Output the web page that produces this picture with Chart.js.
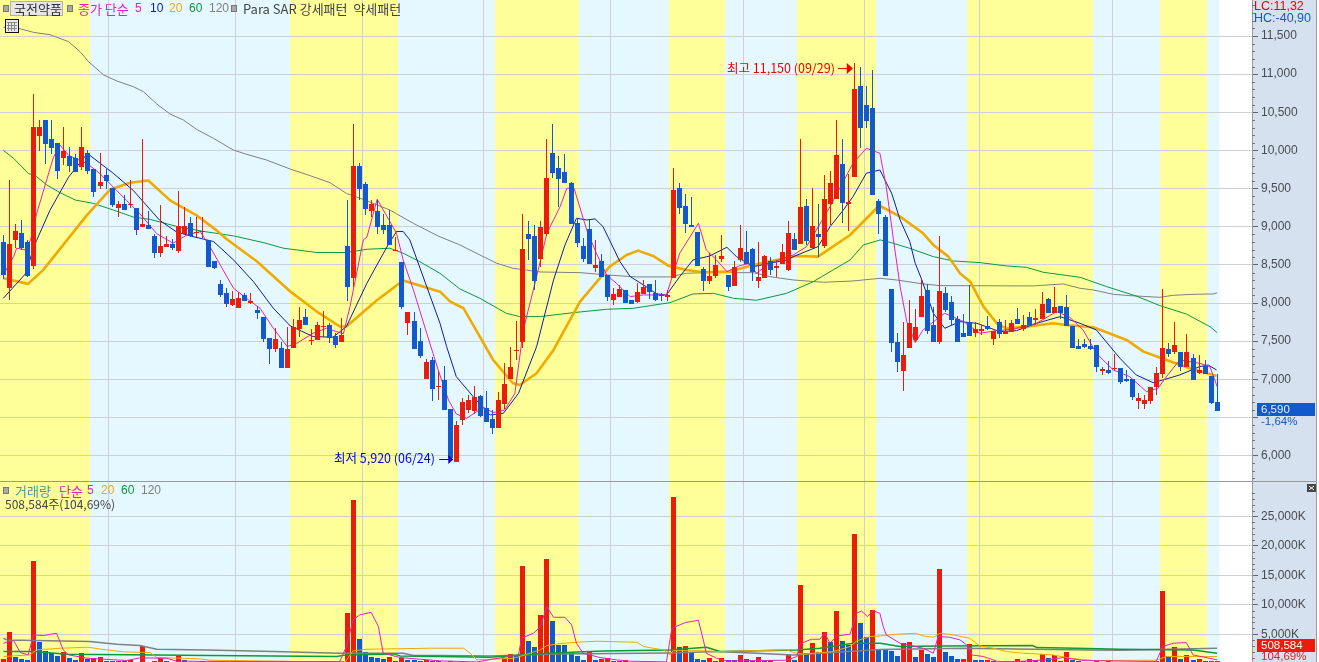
<!DOCTYPE html>
<html><head><meta charset="utf-8">
<style>html,body{margin:0;padding:0;background:#fff;overflow:hidden}canvas{display:block}</style>
<script src="https://cdn.jsdelivr.net/npm/chart.js@4"></script>
</head><body><canvas id="c" width="1319" height="662"></canvas>
<script>
const opens=[8795,8191,8828,8913,8795,8480,10184,10394,10145,10092,
9896,9922,9896,9778,9961,9752,9529,9673,9507,9240,
9293,9290,9240,8996,9017,8873,8657,8736,8775,8679,
8900,9044,8915,8925,8828,8552,8251,8133,7976,7936,
8107,8002,7910,7818,7543,7399,7412,7150,7412,7660,
7818,7500,7517,7695,7713,7570,7490,8749,8330,9791,
9555,9200,9200,9017,9017,8690,8539,7740,7766,7504,
7005,7254,6900,6991,6614,5920,6465,6598,6585,6781,
6620,6480,6362,6677,7004,7375,7489,8905,8879,8577,
8905,9967,9770,9718,9574,9049,8748,8971,8460,8551,
8368,8040,8079,8171,8040,8014,8119,8250,8132,8105,
8079,8328,9508,9272,9023,8931,8446,8289,8355,8578,
8368,8224,8564,8669,8709,8289,8328,8551,8460,8512,
8433,8840,8774,9272,8722,8905,8748,9293,9358,9817,
9300,9647,10840,10591,10551,9332,9128,8184,7489,7109,
7411,7516,7817,8171,7712,7489,8132,8014,7791,7607,
7752,7607,7634,7699,7529,7752,7598,7625,7791,7660,
7817,7778,7791,8053,7870,7961,7948,7699,7437,7463,
7437,7450,7115,7122,7140,7149,7004,7004,6716,6677,
6716,6899,7070,7398,7358,7358,7162,7280,7083,7175,
7044,6703];
const closes=[8362,8777,8939,8725,8349,10302,10302,10079,10027,9725,
9988,9791,9712,10040,9725,9450,9581,9594,9280,9293,
9214,9300,8952,9040,8965,8657,8749,8775,8723,9004,
9004,8873,8930,8940,8478,8461,8107,7989,8054,8067,
8028,8032,7871,7530,7399,7530,7150,7399,7683,7779,
7713,7510,7713,7705,7543,7451,7582,8212,9791,9489,
9227,9293,8991,8952,8762,8700,7949,7884,7399,7307,
7228,6874,6910,6598,5962,6400,6700,6729,6764,6519,
6441,6362,6729,6939,7162,7390,8709,8840,8289,8997,
9639,9705,9626,9574,9036,8787,8577,8512,8499,8342,
8079,8119,8184,8000,7988,8145,8210,8145,8040,8090,
8105,9482,9246,9036,8997,8486,8289,8355,8499,8617,
8210,8473,8722,8512,8407,8342,8617,8433,8486,8669,
8918,8696,9259,8813,9010,8866,9364,9568,9935,9306,
9320,10800,10289,10381,9411,9162,8355,7476,7227,7319,
7739,7686,8092,7634,7489,8158,7909,7778,7489,7555,
7568,7660,7660,7660,7634,7594,7634,7734,7725,7712,
7712,7800,7988,7865,7948,7870,7699,7411,7398,7424,
7398,7162,7130,7083,7150,6965,6978,6768,6755,6729,
6899,7083,7411,7332,7450,7162,7358,6991,7122,7070,
6690,6590];
const highs=[8886,9616,9040,9083,8830,10744,10394,10394,10394,10092,
10302,10040,9957,10302,10000,9752,9970,9760,9507,9332,
9410,9607,9240,10145,9200,8908,9280,8880,8840,9463,
9258,9127,9127,9127,8828,8552,8303,8198,8159,8146,
8133,8133,7962,7818,7543,7670,7495,7683,7788,7950,
7923,7660,7753,7892,7735,7605,7800,9345,10342,9830,
9581,9345,9345,9170,9223,8870,8539,7884,7884,7670,
7263,7290,7110,7175,6614,6456,6749,6795,6913,6800,
6847,6598,6838,7210,7420,7765,9168,9076,9023,9076,
10151,10347,9928,9954,9590,9110,8849,9089,8826,8643,
8368,8193,8237,8171,8040,8258,8302,8250,8302,8130,
8171,9770,9570,9430,9390,8931,8477,8652,8630,8892,
8368,8551,9023,8945,8722,8800,8630,8608,8564,8774,
9076,8918,10151,9364,9508,9299,9679,9725,10394,10145,
9686,11150,11093,10840,11050,9367,9154,8184,7603,7752,
8040,7922,8328,8250,7948,8879,8210,8092,7830,7856,
8237,7752,7712,7830,7634,7791,7778,7778,7935,7843,
7883,7922,8145,8066,8210,7961,8105,7699,7529,7524,
7524,7450,7162,7240,7332,7149,7120,7004,6816,6795,
6899,7162,8184,7476,7752,7358,7594,7332,7319,7253,
7044,7070];
const lows=[8318,8034,8718,8697,8340,8443,9992,9826,9957,9620,
9804,9712,9712,9739,9686,9385,9489,9489,9260,9122,
9214,9240,8886,8996,8965,8596,8609,8736,8697,8657,
8893,8860,8870,8856,8478,8445,8085,7949,7962,7936,
8028,7989,7792,7495,7202,7360,7150,7150,7412,7560,
7713,7456,7517,7560,7480,7412,7490,8028,8216,9345,
9149,9122,8900,8908,8762,8680,7919,7582,7399,7276,
7005,6717,6725,6598,5962,5920,6400,6554,6545,6510,
6441,6283,6362,6615,7004,7253,7411,8564,8171,8477,
8879,9639,9264,9574,9036,8735,8538,8512,8407,8342,
8027,7975,8079,8000,7988,8000,8119,8053,8027,8027,
8027,8328,9167,8914,8997,8486,8158,8250,8328,8538,
8158,8224,8538,8512,8289,8197,8328,8368,8342,8512,
8420,8696,8774,8761,8722,8604,8722,9017,9358,9044,
8939,9647,10027,10289,9411,8900,8355,7358,7096,6847,
7411,7489,7817,7594,7489,7463,7883,7699,7489,7555,
7568,7555,7581,7647,7450,7542,7598,7625,7725,7634,
7712,7712,7791,7865,7870,7795,7699,7411,7398,7410,
7385,7096,7057,7070,7122,6939,6965,6729,6611,6611,
6677,6795,7017,7293,7332,7109,7162,6991,7070,7070,
6680,6590];
const volumes=[820,5400,1210,820,650,17430,3700,2175,1780,1330,
2060,1050,650,1840,820,930,1160,480,440,540,
480,650,370,3020,310,480,1050,420,310,1380,
650,370,310,540,300,330,300,320,300,350,
310,300,330,300,310,300,320,300,310,300,
320,300,310,300,320,300,520,8620,27770,4210,
2000,1160,990,820,1160,420,990,650,650,480,
650,420,420,250,540,300,280,270,260,250,
240,260,300,1050,1670,1440,16580,3870,2850,8280,
17770,7260,3190,3190,1780,1330,650,2000,650,820,
990,480,540,590,300,280,260,250,240,230,
300,28280,2850,3020,1900,820,650,990,480,990,
590,590,1500,760,480,1160,480,590,370,310,
1500,650,13360,1840,3530,2000,5400,3700,8950,3870,
3190,22000,6920,4550,9120,2510,2340,2175,1330,3530,
3700,1160,2340,1670,1160,16070,2000,1330,820,830,
3360,650,640,680,480,310,300,320,820,480,
820,650,1670,990,1500,480,2000,650,400,350,
330,420,300,480,320,300,310,300,320,300,
340,480,12350,1330,2850,820,1500,650,820,420,
486,509];

const ma5=[[0.3,8413],[1.7,8609],[2.2,8719],[3.6,8697],[4.5,8828],[5.5,9170],[8.3,9914],[9.4,10067],[10.8,9935],[13.9,9826],[16,9695],[18.2,9520],[20.4,9345],[22.6,9170],[25.4,8908],[28.1,8784],[30.4,8893],[32.6,8937],[34.2,8740],[35.9,8500],[38.1,8194],[40.8,8028],[42.5,7932],[44.7,7670],[47,7429],[48.6,7473],[51.3,7604],[53.5,7670],[56.3,7595],[57.4,7954],[59.6,8828],[60.2,8865],[61.9,9360],[65.1,8915],[66.2,8566],[67.9,8172],[70.1,7604],[72,7123],[73.7,6729],[75,6546],[76.7,6489],[79.5,6633],[81.1,6563],[83,6598],[84.7,6816],[86.1,7647],[88.3,8346],[90,8914],[92.2,9264],[93.3,9504],[94.5,9504],[96.6,8958],[98.2,8652],[99.9,8368],[101.5,8259],[103.8,8084],[106,8106],[109.8,8105],[112,8652],[115.1,9045],[116.4,8696],[118.1,8564],[119.8,8412],[122,8490],[123.6,8521],[124.7,8390],[126.9,8521],[129.1,8586],[130.8,8630],[133,8739],[136.9,9264],[138.5,9504],[140.7,9832],[142.9,10028],[145.15,9963],[146.2,9526],[147.4,8827],[148.5,8215],[149.6,7756],[151,7481],[152.3,7647],[155.1,7822],[155.9,7865],[159,7756],[161.7,7603],[164.5,7638],[167.2,7656],[171.1,7734],[174.4,7887],[176.6,7813],[178.8,7647],[181,7341],[183.8,7122],[186.5,7035],[189.3,6838],[191.2,6882],[192.6,7035],[194.8,7253],[198.1,7210],[199.8,7166],[201,6904]];
const ma10=[[0,8063],[3.6,8378],[5.2,8762],[5.5,8821],[7.7,9214],[10.8,9651],[13.9,9961],[18.2,9700],[21.5,9476],[25.9,9083],[28.7,8930],[30.9,8880],[34.8,8806],[38.1,8566],[41.4,8281],[44.7,7932],[47.5,7700],[51.3,7560],[54.6,7552],[56.8,7692],[60.2,8260],[63.7,8762],[65.1,8937],[66.2,8937],[67.3,8828],[72.3,7734],[73.4,7428],[75,7035],[77.8,6773],[80.6,6532],[82.8,6554],[85.3,6816],[88.3,7428],[91.1,8302],[93,8761],[94.9,9111],[96.6,9089],[98,9102],[99.3,9001],[102.1,8543],[103.8,8346],[106,8237],[108.2,8119],[109.8,8105],[112,8346],[114.2,8564],[117,8617],[119.8,8731],[121.4,8608],[124.2,8477],[126.9,8521],[129.7,8564],[130.8,8608],[134.9,8739],[136.9,9001],[139.1,9220],[140.7,9395],[142.9,9701],[145.15,9744],[147.1,9438],[148.5,9089],[150.1,8805],[151,8521],[152.1,8302],[154,7865],[155.9,7669],[158.4,7756],[161.2,7734],[165,7625],[167.8,7638],[171.1,7734],[175,7822],[178.3,7734],[181,7647],[184.9,7275],[187.6,7057],[190.4,6956],[192,6991],[194.8,7057],[198.1,7166],[199.5,7188],[200.9,7122]];
const ma20=[[0,8325],[4.1,8251],[6.6,8434],[10.5,8821],[13.8,9149],[17.7,9489],[21,9576],[24,9607],[27.6,9345],[32,9149],[35.3,8952],[37,8835],[42,8544],[47.5,8150],[51.9,7888],[55.7,7692],[56.8,7692],[61.8,8032],[66.2,8295],[72.3,8149],[74,8018],[76.2,7931],[78.9,7559],[81.1,7253],[84.4,6948],[85.5,6926],[88.3,7079],[91.1,7385],[95.5,8018],[100.4,8477],[103.2,8630],[105.1,8687],[107.6,8617],[110.1,8490],[113.1,8433],[115.9,8403],[120.3,8412],[124.2,8499],[128,8564],[131.4,8617],[134.9,8608],[140.2,8892],[144.6,9242],[145.2,9272],[148.5,9133],[152.3,8914],[154,8761],[156.5,8608],[158.4,8390],[160.1,8280],[162.3,7953],[164.5,7734],[166.1,7664],[169.4,7690],[173.8,7734],[176,7712],[180.5,7682],[186,7516],[188.8,7363],[192.6,7253],[196.5,7144],[200.9,7044]];
const ma60=[[0,10001],[1.7,9896],[4.1,9700],[5.5,9656],[7.2,9547],[9.4,9446],[11.9,9350],[14.9,9306],[18.2,9219],[21.5,9127],[24.3,9096],[28.7,9004],[33.1,8939],[38.1,8880],[43,8793],[46.4,8718],[51.9,8662],[56.8,8662],[60.2,8705],[64,8718],[66.2,8653],[68.9,8544],[72.3,8390],[75.6,8184],[78.9,8062],[83.3,7865],[85.5,7822],[88.9,7822],[94.4,7874],[99.9,7918],[104.3,7931],[110.4,8005],[114.2,8119],[117.6,8127],[120.9,8062],[124.7,8036],[129.7,8127],[134.1,8280],[140.2,8564],[142.4,8761],[145.2,8827],[146.8,8796],[150.1,8717],[154,8608],[157.3,8551],[161.7,8530],[166.1,8486],[169.4,8468],[172.2,8403],[178.3,8337],[182.7,8215],[187.6,8092],[191.5,7966],[195.9,7856],[199.8,7690],[201,7612]];
const ma120=[[0,11614],[2.5,11600],[5,11548],[7.7,11517],[10.8,11426],[12.7,11295],[14.1,11164],[16.6,10989],[18.8,10910],[21.5,10836],[23.2,10770],[25.4,10609],[27.6,10477],[29.8,10399],[32,10276],[34.8,10158],[38.1,10005],[40.3,9949],[43.6,9874],[47.5,9756],[50.8,9669],[54.1,9577],[56.8,9437],[59.6,9358],[64,9219],[67.9,9044],[72,8878],[75.6,8761],[78.9,8630],[81.7,8521],[84.4,8455],[88.9,8407],[95.5,8398],[99.9,8368],[104.9,8342],[110.4,8342],[113.1,8390],[116.4,8398],[124.2,8398],[126.9,8346],[130.8,8302],[135.8,8272],[140.7,8289],[145.2,8324],[147.9,8302],[152.3,8250],[155.1,8228],[170.5,8224],[175.5,8250],[178.3,8193],[180.5,8171],[183.8,8114],[186.5,8097],[191.5,8075],[193.7,8101],[197,8114],[200.3,8119],[201,8132]];

const volMa5=[[0,3475],[1.7,3927],[2.8,1893],[4.1,1497],[5,4887],[6.6,4774],[8.8,5170],[9.9,2345],[10.8,1497],[13.8,932],[16.6,763],[20.4,537],[22.6,989],[27,932],[28.7,424],[37.5,367],[55.7,367],[56.8,2910],[57.9,7430],[59,8277],[60.9,8729],[62.1,6300],[62.9,1780],[65.7,1045],[72.3,480],[78.4,300],[85.3,1497],[85.8,4322],[87.8,5170],[88.9,6300],[90,9690],[91.1,7882],[93,7882],[94.1,6583],[94.9,3475],[96,1780],[98.8,1045],[101.5,650],[103.8,424],[109.8,311],[110.7,6017],[112.9,6978],[115.1,7373],[115.9,4040],[116.4,1780],[118.1,932],[119.8,480],[129.7,593],[131.4,1215],[131.9,3362],[133.8,4153],[135.2,4153],[136,5170],[136.9,3475],[138,4718],[140.2,5000],[141.3,8560],[142.1,8955],[143.1,7995],[144,9012],[145.15,8560],[145.7,6300],[146.2,4887],[148.5,3475],[152.3,2627],[154,1780],[154.8,4605],[156.7,4492],[158.4,4040],[159.5,3192],[160.3,1497],[162.3,1215],[164.7,367],[167.8,367],[172.7,650],[175.5,1045],[178.8,537],[190.9,367],[192,2910],[193.7,3475],[195.9,3588],[197,1497],[201,650]];
const volMa20=[[0,1215],[4.4,1497],[5.5,2345],[9.4,2627],[14,2797],[17.1,2345],[19.9,2006],[24.3,1893],[25.4,1045],[32.6,819],[34.2,593],[47,424],[48.6,311],[56.6,311],[57.9,2175],[60.2,2458],[70.7,2627],[76.2,2627],[77.3,1780],[78.4,650],[84.4,932],[85.5,1215],[88.9,2345],[90,3079],[92.2,3418],[94.9,3644],[98.2,3814],[104.9,3644],[106,2910],[107.6,2627],[109.3,2345],[110.4,1497],[110.9,2232],[116.4,2175],[118.1,2062],[129.7,2345],[130.8,1893],[132.5,1610],[137.4,2062],[140.2,2910],[141.3,3870],[143.5,4605],[145.2,4718],[147.9,5000],[151.2,5170],[152.3,4718],[154,4492],[155.1,5170],[157.3,4887],[160,4322],[161.7,3023],[163.9,2627],[166.1,2062],[168.9,1780],[173.8,1497],[176.6,932],[180.5,537],[190.9,593],[192.6,1215],[201,1215]];
const volMa60=[[0,2062],[5,2062],[10.5,1610],[25.4,1497],[34.2,1384],[55.2,1215],[56.8,1497],[64.6,1667],[65.7,1328],[72.3,1215],[80.6,1102],[90,1780],[99.3,2175],[110.4,2345],[116.4,2797],[118.7,2062],[131.4,2345],[135.2,2627],[140.7,3475],[145.2,3475],[148.5,2910],[155.1,3023],[170.5,3079],[171.1,2740],[177.7,2627],[184.9,2458],[197,2345],[201,1780]];
const volMa120=[[0,4322],[0.6,4040],[14.3,3757],[18.8,3305],[22.6,3079],[25.4,2458],[33.7,2345],[44.7,2062],[55.7,1780],[66.2,1780],[67.9,1384],[72.3,1384],[80.6,1328],[91.6,1667],[110.4,1836],[118.1,2062],[124.7,1780],[130.8,1497],[145.2,2400],[159,2627],[179.4,2345],[184.9,2288],[201,2627]];

const yellowBands=[[-0.6,14.29],[47.45,65.28],[81.39,95.4],[110.3,119.47],[131.44,144.5],[159.6,180.4],[191.5,199.4]];
const blueBand=[-0.6,201.4];
const monthLines=[17.37,38.4,59.43,79.47,100.5,122.53,142.56,161.6,183.63];
const priceTicks=[6000,6500,7000,7500,8000,8500,9000,9500,10000,10500,11000,11500];
const hiddenPriceLabels=[6500];
const volumeTicks=[5000,10000,15000,20000,25000];

const RED='#EB1C0C',BLUE='#1259CC',MAG='#E61FBE',NAVY='#0A1FA5',ORG='#F0AA00',GRN='#0A9A3C',GRY='#808080';
const GRID='#CDD0D6',AXIS='#999',TXT='#454C55';
const idx=a=>a.map((_,i)=>i);
const pts=a=>a.map(p=>({x:p[0],y:p[1]}));
const candleColor=idx(opens).map(i=>closes[i]>=opens[i]?RED:BLUE);
const volColor=idx(volumes).map(i=>i===0||volumes[i]>volumes[i-1]?RED:BLUE);
const line=(d,col,w,axis,order)=>({type:'line',data:pts(d),borderColor:col,borderWidth:w,pointRadius:0,tension:0,yAxisID:axis,order,parsing:true,fill:false,borderJoinStyle:'round'});
const bar=(d,col,w,axis,order)=>({type:'bar',data:d,backgroundColor:col,borderWidth:0,barThickness:w,grouped:false,barPercentage:0.9,categoryPercentage:1,inflateAmount:0,yAxisID:axis,order,snap:true});

const datasets=[
 bar(idx(opens).map(i=>({x:i,y:[opens[i],closes[i]]})),candleColor,5,'y',1),
 bar(idx(opens).map(i=>({x:i,y:[lows[i],highs[i]]})),candleColor,1,'y',2),
 line(ma5,MAG,1,'y',3),line(ma10,NAVY,1,'y',4),line(ma20,ORG,2.6,'y',5),line(ma60,GRN,1,'y',6),line(ma120,GRY,1,'y',7),
 line(volMa5,MAG,1,'y2',-4),line(volMa20,ORG,1,'y2',-3),line(volMa60,GRN,1.5,'y2',-2),line(volMa120,GRY,1.5,'y2',-1),
 bar(idx(volumes).map(i=>({x:i,y:volumes[i]})),volColor,5,'y2',0)
];

const CJK='"Noto Sans CJK KR"',NUM='"Liberation Sans"';
function t(c,s,x,y,col,font){c.font=font;c.fillStyle=col;c.textAlign='left';c.textBaseline='middle';c.fillText(s,x,y);}
function sq(c,x,y){c.fillStyle='#AAAAAA';c.fillRect(x,y,6,7);c.strokeStyle='#777';c.lineWidth=1;c.strokeRect(x+.5,y+.5,5,6);}

const panelPlugin={id:'panel',
 afterDatasetsUpdate(ch){ // keep every bar on whole pixels
  ch.data.datasets.forEach((d,k)=>{ if(!d.snap)return;
   ch.getDatasetMeta(k).data.forEach(el=>{
    el.x=Math.floor(el.x)+.5; el.y=Math.round(el.y); el.base=Math.round(el.base);
    if(el.y===el.base) el.base=el.y+1;
   });});
 },
 beforeDraw(ch){
  const c=ch.ctx,xs=ch.scales.x,a=ch.chartArea;
  c.save();
  c.fillStyle='#fff';c.fillRect(0,0,ch.width,ch.height);
  c.fillStyle='#E5F8FF';
  const bx0=xs.getPixelForValue(blueBand[0]),bx1=xs.getPixelForValue(blueBand[1]);
  c.fillRect(bx0,0,bx1-bx0,ch.height);
  c.fillStyle='#FFFF99';
  yellowBands.forEach(b=>{const l=Math.round(xs.getPixelForValue(b[0])),r=Math.round(xs.getPixelForValue(b[1]));c.fillRect(l,0,r-l,ch.height);});
  c.fillStyle='#D6E1EF';c.fillRect(a.right,0,ch.width-a.right,ch.height);
  c.restore();
 },
 afterDraw(ch){
  const c=ch.ctx,{x:xs,y:ys,y2:vs}=ch.scales,a=ch.chartArea;
  c.save();
  // panel frames
  c.fillStyle='#999';
  c.fillRect(0,481,a.right,1);
  c.fillRect(a.right,0,1,ch.height);
  c.fillRect(1316,0,1,ch.height);
  c.fillStyle='#fff';c.fillRect(1317,0,2,ch.height);
  c.fillStyle='#999';c.fillRect(a.right,481,64,1);
  // minor ticks
  c.fillStyle='#777';
  for(let v=5700;v<=11900;v+=100){ if(v%500===0)continue; c.fillRect(a.right,Math.round(ys.getPixelForValue(v)),3,1);}
  for(let v=1000;v<=29000;v+=1000){ if(v%5000===0)continue; const p=Math.round(vs.getPixelForValue(v)); if(p>482) c.fillRect(a.right,p,3,1);}
  // legend row
  sq(c,3,5);
  c.fillStyle='#E6E6E6';c.fillRect(11,1,52,15);c.strokeStyle='#B0B0B0';c.lineWidth=1;c.strokeRect(10.5,1.5,52,14);
  t(c,'국전약품',14,9,'#333',`13px ${CJK}`);
  sq(c,67,5);
  t(c,'종가 단순',78,9,MAG,`13px ${CJK}`);
  t(c,'5',135,9,MAG,`12px ${NUM}`);
  t(c,'10',150,9,NAVY,`12px ${NUM}`);
  t(c,'20',169,9,ORG,`12px ${NUM}`);
  t(c,'60',189,9,GRN,`12px ${NUM}`);
  t(c,'120',209,9,GRY,`12px ${NUM}`);
  sq(c,231,5);
  t(c,'Para SAR 강세패턴  약세패턴',243,9,'#444',`13px ${CJK}`);
  // table icon
  c.fillStyle='#E8E8E8';c.fillRect(5,19,14,14);c.strokeStyle='#111';c.strokeRect(5.5,19.5,13,13);
  c.strokeStyle='#888';c.beginPath();
  [8.5,11.5,14.5].forEach(p=>{c.moveTo(p,22);c.lineTo(p,31);});
  [22.5,25.5,28.5].forEach(p=>{c.moveTo(7,p);c.lineTo(17,p);});
  c.stroke();
  // volume legend
  sq(c,3,487);
  t(c,'거래량',15,491,'#3A9AAE',`13px ${CJK}`);
  t(c,'단순',59,491,MAG,`13px ${CJK}`);
  t(c,'5',87,491,MAG,`12px ${NUM}`);
  t(c,'20',101,491,ORG,`12px ${NUM}`);
  t(c,'60',121,491,GRN,`12px ${NUM}`);
  t(c,'120',141,491,GRY,`12px ${NUM}`);
  t(c,'508,584주(104,69%)',5,504,'#444',`12px ${CJK}`);
  // close button
  c.fillStyle='#444';c.fillRect(1307,484,9,8);
  c.strokeStyle='#fff';c.beginPath();c.moveTo(1309,486);c.lineTo(1314,490);c.moveTo(1314,486);c.lineTo(1309,490);c.stroke();
  // right labels
  t(c,'LC:11,32',1254,7,'#F00000',`12.5px ${NUM}`);
  t(c,'HC:-40,90',1254,19,BLUE,`12.5px ${NUM}`);
  c.fillStyle=BLUE;c.fillRect(1257,403,58,13);
  t(c,'6,590',1261,410,'#E8F0FF',`11.5px ${NUM}`);
  t(c,'-1,64%',1261,422,BLUE,`11.5px ${NUM}`);
  c.fillStyle=RED;c.fillRect(1257,639,58,13);
  t(c,'508,584',1261,646,'#FFF',`11.5px ${NUM}`);
  t(c,'104,69%',1261,657,RED,`11.5px ${NUM}`);
  // high / low marks
  const hx=xs.getPixelForValue(141),hy=Math.round(ys.getPixelForValue(11150))+5;
  t(c,'최고 11,150 (09/29)',727,hy,'#F00000',`12.5px ${CJK}`);
  c.fillStyle='#F00000';c.fillRect(hx-17,hy,10,1);
  c.beginPath();c.moveTo(hx-2,hy+.5);c.lineTo(hx-8,hy-5);c.lineTo(hx-8,hy+6);c.closePath();c.fill();
  const lx=xs.getPixelForValue(75),ly=Math.round(ys.getPixelForValue(5920))-3;
  t(c,'최저 5,920 (06/24)',334,ly-1,'#0000E0',`12.5px ${CJK}`);
  c.fillStyle='#0000E0';c.fillRect(lx-17,ly,11,1);
  c.beginPath();c.moveTo(lx-3,ly+.5);c.lineTo(lx-8,ly-4);c.lineTo(lx-8,ly+5);c.closePath();c.fill();
  c.restore();
 }
};

function yAxis(min,max,weight,stackWeight,values,fmt){return {
 type:'linear',position:'right',stack:'panes',stackWeight,weight,min,max,
 afterBuildTicks:s=>{s.ticks=values.map(v=>({value:v}));},
 afterFit:s=>{s.width=67;s.paddingTop=0;s.paddingBottom=0;},
 border:{display:false},
 grid:{color:GRID,lineWidth:1,tickColor:'#666',tickLength:6,drawTicks:true},
 ticks:{autoSkip:false,padding:3,crossAlign:'near',color:TXT,font:{family:'"Liberation Sans"',size:12},callback:fmt}
};}

new Chart(document.getElementById('c'),{
 type:'bar',
 data:{datasets},
 options:{
  responsive:false,animation:false,devicePixelRatio:1,
  layout:{padding:0},
  plugins:{legend:{display:false},tooltip:{enabled:false}},
  events:[],
  scales:{
   x:{type:'linear',offset:false,min:-0.563,max:206.77,
      afterBuildTicks:s=>{s.ticks=monthLines.map(v=>({value:v}));},
      afterFit:s=>{s.height=0;s.paddingLeft=0;s.paddingRight=0;},
      border:{display:false},
      grid:{offset:false,color:GRID,lineWidth:1,drawTicks:false},
      ticks:{display:false,autoSkip:false}},
   y:yAxis(5667,11972,0,481,priceTicks,v=>hiddenPriceLabels.includes(v)?'':Number(v).toLocaleString('en-US')),
   y2:yAxis(288,31022,1,181,volumeTicks,v=>Number(v).toLocaleString('en-US')+'K')
  }
 },
 plugins:[panelPlugin]
});
</script></body></html>
